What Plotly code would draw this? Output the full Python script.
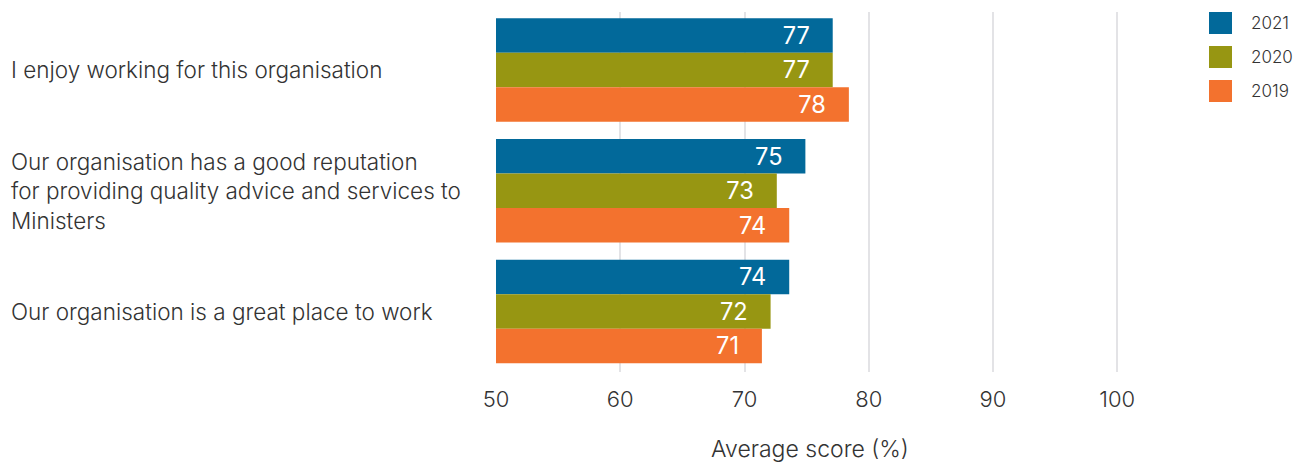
import plotly.graph_objects as go

# Survey statements (top to bottom) and yearly average scores (%)
statements = [
    "I enjoy working for this organisation",
    "Our organisation has a good reputation<br>for providing quality advice and services to<br>Ministers",
    "Our organisation is a great place to work",
]
years = ["2021", "2020", "2019"]
scores_2021 = [77.1, 74.9, 73.6]
scores_2020 = [77.1, 72.6, 72.1]
scores_2019 = [78.4, 73.6, 71.4]
colors = ["#02699a", "#979612", "#f3722e"]
x_ticks = [50, 60, 70, 80, 90, 100]

FONT = "Inter"
TEXT = "#333333"
LIGHT = 300

W, H = 1306, 463
ML, MR, MT, MB = 496, 182, 12, 91
PW, PH = W - ML - MR, H - MT - MB

fig = go.Figure()
cat_ids = list(range(len(statements)))
for name, vals, col in zip(years, [scores_2021, scores_2020, scores_2019], colors):
    fig.add_trace(go.Bar(
        y=cat_ids, x=vals, base=0, orientation="h", name=name,
        marker=dict(color=col, line=dict(width=0)),
        texttemplate="%{x:.0f}\u00a0\u00a0\u00a0",
        textposition="inside", insidetextanchor="end",
        textfont=dict(color="white", size=24, family=FONT),
        showlegend=False, hoverinfo="skip",
    ))

# Statement labels, left aligned at the page edge
for i, s in enumerate(statements):
    fig.add_annotation(
        x=-(ML - 9) / PW, xref="paper", y=i, yref="y",
        text=s, showarrow=False, xanchor="left", align="left",
        font=dict(size=22.5, family=FONT, color=TEXT, weight=LIGHT),
    )

# Legend: coloured squares with year labels
def px_x(p):
    return (p - ML) / PW

def px_y(p):
    return 1 - (p - MT) / PH

for k, (name, col) in enumerate(zip(years, colors)):
    top = 12 + 34 * k
    fig.add_shape(type="rect", xref="paper", yref="paper",
                  x0=px_x(1209), x1=px_x(1232), y0=px_y(top + 22), y1=px_y(top),
                  fillcolor=col, line=dict(width=0))
    fig.add_annotation(x=px_x(1249), y=px_y(top + 11), xref="paper", yref="paper",
                       text=name, showarrow=False, xanchor="left", yanchor="middle",
                       font=dict(size=17, family=FONT, color=TEXT, weight=LIGHT))

fig.update_layout(
    width=W, height=H,
    margin=dict(l=ML, r=MR, t=MT, b=MB, pad=0, autoexpand=False),
    paper_bgcolor="white", plot_bgcolor="white",
    barmode="group", bargap=0.143, bargroupgap=0,
    font=dict(family=FONT, color=TEXT),
    showlegend=False,
    xaxis=dict(
        range=[50, 50 + PW / 12.425],
        tickvals=x_ticks, ticktext=[str(v) for v in x_ticks],
        showgrid=True, gridcolor="#e3e3e6", gridwidth=2,
        zeroline=False, showline=False, automargin=False,
        ticks="outside", ticklen=8, tickcolor="rgba(0,0,0,0)",
        tickfont=dict(size=22, family=FONT, color=TEXT, weight=LIGHT),
        title=dict(text="Average score (%)", standoff=34,
                   font=dict(size=23, family=FONT, color=TEXT, weight=LIGHT)),
    ),
    yaxis=dict(
        range=[2.5, -0.48], showticklabels=False, showgrid=False,
        zeroline=False, showline=False, ticks="", automargin=False,
    ),
)

fig.write_html("out.html")
